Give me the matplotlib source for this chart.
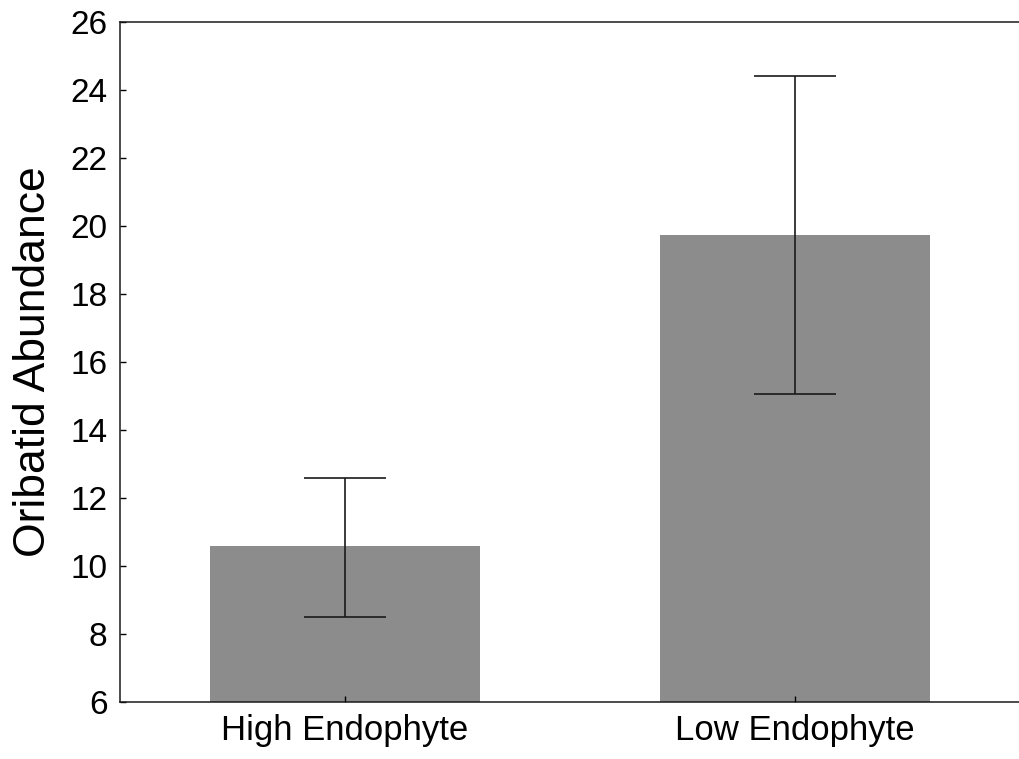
import matplotlib
matplotlib.use("Agg")
import matplotlib.pyplot as plt

plt.rcParams['font.family'] = ['Liberation Sans', 'DejaVu Sans']

# data
groups = ["High Endophyte", "Low Endophyte"]
means = [10.6, 19.75]
lower = [8.5, 15.05]
upper = [12.6, 24.4]

fig = plt.figure(figsize=(10.19, 7.59), dpi=100)
ax = fig.add_axes([0.1178, 0.0751, 0.8832, 0.8959])

x = list(range(len(groups)))
err = [[m - lo for m, lo in zip(means, lower)], [hi - m for m, hi in zip(means, upper)]]
ax.bar(x, means, width=0.6, color="#8c8c8c", bottom=0)
ax.errorbar(x, means, yerr=err, fmt="none", ecolor="#1a1a1a",
            elinewidth=1.2, capsize=29.5, capthick=1.2)

ax.set_xlim(-0.5, 1.5)
ax.set_ylim(6, 26)
ax.set_yticks(range(6, 27, 2))
ax.set_xticks(x)
ax.set_xticklabels(groups, fontsize=25)
ax.tick_params(axis="y", labelsize=24, direction="in", length=4, width=1, pad=9)
ax.tick_params(axis="x", direction="in", length=4, width=1, pad=9)
ax.set_ylabel("Oribatid Abundance", fontsize=32, labelpad=12)

ax.spines["right"].set_visible(False)
for s in ["left", "top", "bottom"]:
    ax.spines[s].set_linewidth(1.1)
    ax.spines[s].set_color("#1a1a1a")

fig.savefig("out.png", dpi=100)
